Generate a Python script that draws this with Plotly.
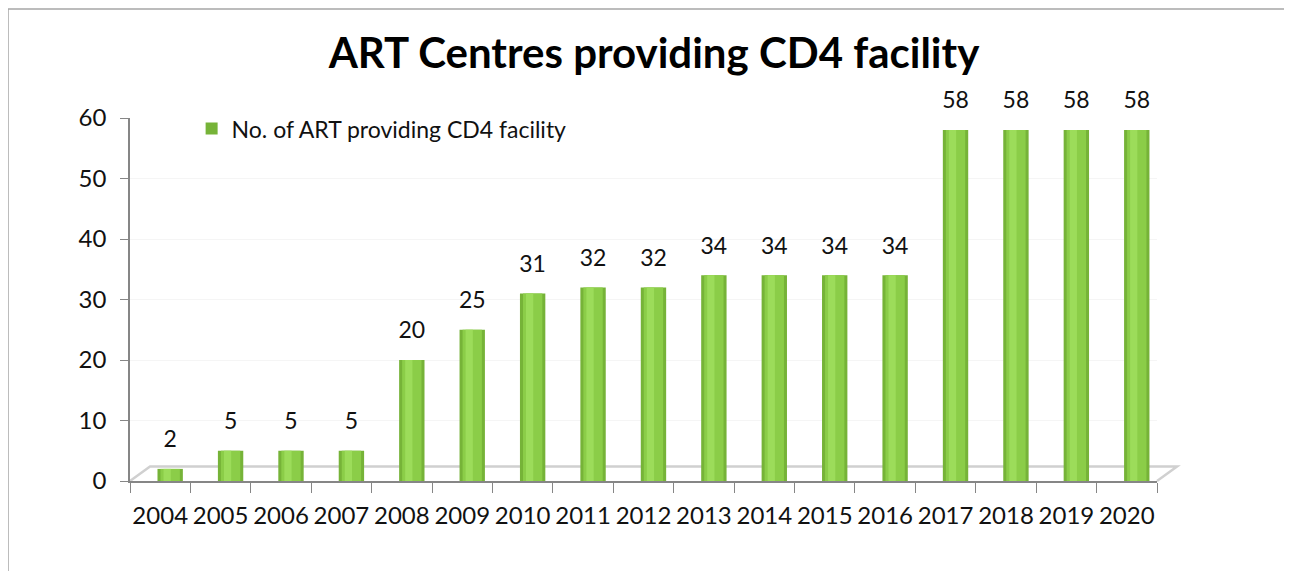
import plotly.graph_objects as go

# data
years = ['2004', '2005', '2006', '2007', '2008', '2009', '2010', '2011', '2012',
         '2013', '2014', '2015', '2016', '2017', '2018', '2019', '2020']
centres = [2, 5, 5, 5, 20, 25, 31, 32, 32, 34, 34, 34, 34, 58, 58, 58, 58]
series_name = 'No. of ART providing CD4 facility'
chart_title = 'ART Centres providing CD4 facility'

FONT = 'Lato, "Open Sans", sans-serif'
SHIFT = 0.165   # bars sit a little right of the category centre (3D look)

fig = go.Figure()

# outer cylinder body (darker edges)
fig.add_trace(go.Bar(
    x=years, y=centres, name=series_name,
    width=0.42, offset=SHIFT - 0.21,
    marker=dict(color='#76b338', line=dict(width=0)),
))
# lit middle of the cylinder
fig.add_trace(go.Bar(
    x=years, y=centres, showlegend=False, hoverinfo='skip',
    width=0.32, offset=SHIFT - 0.16,
    marker=dict(color='#8bcd48', line=dict(width=0)),
))
# highlight strip
fig.add_trace(go.Bar(
    x=years, y=centres, showlegend=False, hoverinfo='skip',
    width=0.12, offset=SHIFT - 0.11,
    marker=dict(color='#9cdc5a', line=dict(width=0)),
))
# value labels, on a shifted overlay axis so they sit over the cylinders
fig.add_trace(go.Scatter(
    x=list(range(len(years))), y=centres, xaxis='x2',
    mode='markers+text', showlegend=False, hoverinfo='skip',
    marker=dict(size=24, opacity=0),
    text=[str(v) for v in centres], textposition='top center',
    textfont=dict(family=FONT, size=23, color='#111111'),
    cliponaxis=False,
))

n = len(years)
fig.update_layout(
    width=1292, height=571,
    margin=dict(l=122, r=143, t=110, b=98),
    paper_bgcolor='white', plot_bgcolor='white',
    barmode='overlay',
    font=dict(family=FONT, size=24, color='#111111'),
    title=dict(text='<b>' + chart_title + '</b>', x=0.5, xanchor='center',
               y=0.92, yanchor='middle',
               font=dict(family=FONT, size=42, color='#000000')),
    legend=dict(x=0.06, y=1.03, xanchor='left', yanchor='top',
                bgcolor='rgba(0,0,0,0)', font=dict(family=FONT, size=23),
                itemwidth=30),
    showlegend=True,
    xaxis=dict(type='category', showline=True, linecolor='#868686', linewidth=1.5,
               ticks='outside', tickson='boundaries', ticklen=10, tickcolor='#868686',
               showgrid=False, tickangle=0, tickfont=dict(family=FONT, size=24),
               ticklabelstandoff=12),
    xaxis2=dict(overlaying='x', visible=False,
                range=[-0.5 - SHIFT, n - 0.5 - SHIFT]),
    yaxis=dict(range=[0, 60], dtick=10, showline=True, linecolor='#868686', linewidth=1.5,
               ticks='outside', ticklen=8, tickcolor='#868686',
               showgrid=True, gridcolor='#f5f5f5', zeroline=False,
               tickfont=dict(family=FONT, size=24), ticklabelstandoff=9),
    shapes=[
        # chart border
        dict(type='rect', xref='paper', yref='paper',
             x0=-0.1188, x1=1.1256, y0=-0.3, y1=1.300,
             line=dict(color='#a6a6a6', width=1.5), fillcolor='rgba(0,0,0,0)',
             layer='below'),
        # 3D floor edge
        dict(type='path', xref='paper', yref='paper',
             path='M 0,0 L 0.0195,0.04 L 1.0195,0.04 L 1,0',
             line=dict(color='#d0d0d0', width=2.5), layer='below'),
    ],
)

fig.write_html('out.html')
